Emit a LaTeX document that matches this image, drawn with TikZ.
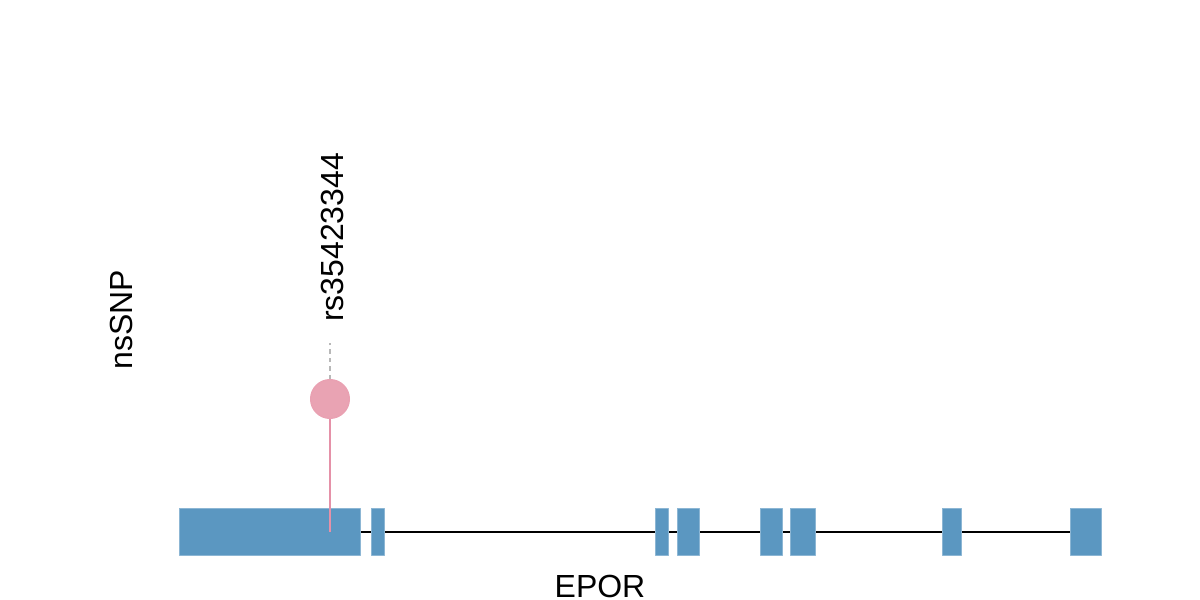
\documentclass[tikz,border=0pt]{standalone}
\usepackage{fontspec}
\setmainfont{Liberation Sans}
\definecolor{exonblue}{HTML}{5B97C1}
\definecolor{snppink}{HTML}{E9A3B3}
\definecolor{stempink}{HTML}{E591A8}
\definecolor{guidegrey}{HTML}{B8B8B8}
\tikzset{
	exon/.style={rectangle, fill=exonblue, draw=exonblue!70!white, line width=0.2pt, inner sep=0pt, minimum height=0.465cm},
	lbl/.style={inner sep=0pt, font=\fontsize{9.1}{11}\selectfont}
}
\begin{document}
\begin{tikzpicture}[line join = round]
	\useasboundingbox (0,0) rectangle (12,6);
	\coordinate (tss) at (3.60,0.683);
	\coordinate (tes) at (10.70,0.683);
	\coordinate (snpbase) at (3.30,0.683);
	\coordinate (guidetop) at (3.30,2.57);
	\draw[line width=0.6pt] (tss) -- (tes); % intron
	\foreach \i/\xc/\w in {1/2.695/1.81, 2/3.775/0.13, 3/6.615/0.13, 4/6.88/0.22,
		5/7.71/0.22, 6/8.025/0.25, 7/9.515/0.19, 8/10.855/0.31}
		\node[exon, minimum width=\w cm] (e\i) at (\xc,0.683) {};
	\node[circle, fill=snppink, draw=snppink!90!stempink, inner sep=0pt, minimum size=0.386cm] (snp) at (3.30,2.01) {};
	\draw[stempink, line width=0.6pt] (snp) -- (snpbase); % stem
	\draw[guidegrey, line width=0.5pt, dash pattern=on 1.2pt off 1.2pt] (snp) -- (guidetop);
	\node[lbl, rotate=90] (snpname) at (3.32,3.625) {rs35423344};
	\node[lbl, rotate=90] (track) at (1.21,2.80) {nsSNP};
	\node[lbl] (gene) at (6.00,0.14) {EPOR};
\end{tikzpicture}
\end{document}
